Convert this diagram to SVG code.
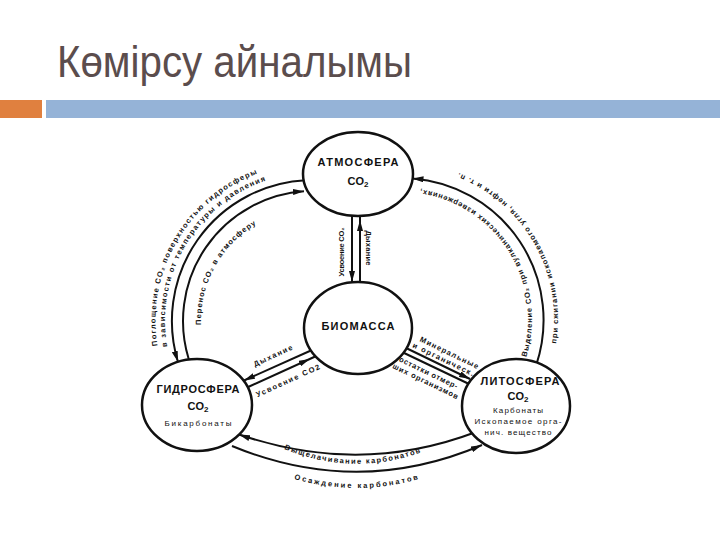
<svg xmlns="http://www.w3.org/2000/svg" width="720" height="540" viewBox="0 0 720 540">
<defs>
<style>
.ln{fill:none;stroke:#111;stroke-width:2}
.nd ellipse{fill:#fff;stroke:#111;stroke-width:2.5}
.nt{font-family:"Liberation Sans",Arial,sans-serif;font-weight:bold;font-size:11px;fill:#111;text-anchor:middle}
.ns{font-family:"Liberation Sans",Arial,sans-serif;font-size:8px;fill:#111;text-anchor:middle}
.lb{font-family:"Liberation Sans",Arial,sans-serif;font-weight:bold;font-size:7.5px;fill:#111}
.mid{text-anchor:middle}
</style>
<marker id="ah" viewBox="0 0 11 6" refX="11" refY="3" markerWidth="11" markerHeight="6" markerUnits="userSpaceOnUse" orient="auto"><path d="M0,0 L11,3 L0,6z" fill="#111"/></marker>
<marker id="ah6" viewBox="0 0 17 6" refX="17" refY="3" markerWidth="17" markerHeight="6" markerUnits="userSpaceOnUse" orient="auto"><path d="M0,0 L11,3 L0,6z" fill="#111"/></marker>
<path id="tp1" d="M157.44,345.64 A157.5 157.5 0 0 1 261.72,172.08"/>
<path id="tp2" d="M167.25,346.7 A148 148 0 0 1 267.27,180.24"/>
<path id="tp3" d="M201.07,324.91 A112 112 0 0 1 260.42,222.11"/>
<path id="tp4" d="M526.3,357.3 A131 131 0 0 0 410.1,188.3"/>
<path id="tp5" d="M556.1,343.6 A157 157 0 0 0 454.7,171.5"/>
<path id="tp6" d="M284,449 Q358,479 432,448"/>
<path id="tp7" d="M294,479 Q360,498 426,477"/>
</defs>

<g id="title">
<text x="57" y="77" font-family="'Liberation Sans',Arial,sans-serif" font-size="44" fill="#5b4d4d" textLength="355" lengthAdjust="spacingAndGlyphs">Көмірсу айналымы</text>
<rect x="0" y="100" width="42" height="18" fill="#e0803f"/>
<rect x="46" y="100" width="674" height="18" fill="#95b3d7"/>
</g>

<g id="connectors">
<path class="ln" d="M305.6,180.2 A141 141 0 0 0 178,362" marker-end="url(#ah)"/>
<path class="ln" d="M188.7,359 A130 130 0 0 1 304,191.3" marker-end="url(#ah)"/>
<path class="ln" d="M536.3,364.9 A142 142 0 0 0 412.5,178.5" marker-end="url(#ah)"/>
<path class="ln" d="M352,212 L352,282" marker-end="url(#ah)"/>
<path class="ln" d="M360,285 L360,214" marker-end="url(#ah6)"/>
<path class="ln" d="M312,350 L244,380.5" marker-end="url(#ah)"/>
<path class="ln" d="M246,388 L315.2,356.5" marker-end="url(#ah6)"/>
<path class="ln" d="M404,347 L470,379" marker-end="url(#ah)"/>
<path class="ln" d="M402,352 L468,383.5"/>
<path class="ln" d="M476,432 Q360,476 239,434.5" marker-end="url(#ah)"/>
<path class="ln" d="M232,446 Q358,498 482,445" marker-end="url(#ah)"/>

<text class="lb"><textPath href="#tp1" textLength="215">Поглощение CO₂ поверхностью гидросферы</textPath></text>
<text class="lb"><textPath href="#tp2" textLength="210">в зависимости от температуры и давления</textPath></text>
<text class="lb"><textPath href="#tp3" textLength="120">Перенос CO₂ в атмосферу</textPath></text>
<text class="lb"><textPath href="#tp4" textLength="225">Выделение CO₂ при вулканических извержениях,</textPath></text>
<text class="lb"><textPath href="#tp5" textLength="212">при сжигании ископаемого угля, нефти и т. п.</textPath></text>
<text class="lb"><textPath href="#tp6" textLength="140">Выщелачивание  карбонатов</textPath></text>
<text class="lb"><textPath href="#tp7" textLength="126">Осаждение  карбонатов</textPath></text>

<text class="lb mid" transform="translate(344,252) rotate(-90)" textLength="49">Усвоение CO₂</text>
<text class="lb mid" transform="translate(366,248) rotate(90)" textLength="35">Дыхание</text>
<text class="lb mid" transform="translate(274,358) rotate(-24.5)" textLength="42">Дыхание</text>
<text class="lb mid" transform="translate(289,383) rotate(-24.5)" font-size="8.5" textLength="69">Усвоение CO2</text>
<g transform="translate(406,348) rotate(25.8)">
<text class="lb" x="9" y="-12" textLength="64">Минеральные</text>
<text class="lb" x="5" y="-3.5" textLength="67">и органическ.</text>
<text class="lb" x="-1" y="15" textLength="64">остатки отмер-</text>
<text class="lb" x="-4" y="24" textLength="72">ших организмов</text>
</g>
</g>

<g id="atmosphere" class="nd">
<ellipse cx="358" cy="174" rx="55" ry="42"/>
<text class="nt" x="358" y="166" textLength="81">АТМОСФЕРА</text>
<text class="nt" x="358" y="185">CO<tspan font-size="8" dy="2">2</tspan></text>
</g>
<g id="biomass" class="nd">
<ellipse cx="358" cy="328" rx="54" ry="46"/>
<text class="nt" x="358" y="330" textLength="73">БИОМАССА</text>
</g>
<g id="hydrosphere" class="nd">
<ellipse cx="197" cy="405" rx="55" ry="46"/>
<text class="nt" x="198" y="393" textLength="83">ГИДРОСФЕРА</text>
<text class="nt" x="198" y="410">CO<tspan font-size="8" dy="2">2</tspan></text>
<text class="ns" x="198" y="426" textLength="67">Бикарбонаты</text>
</g>
<g id="lithosphere" class="nd">
<ellipse cx="516" cy="406" rx="54" ry="47"/>
<text class="nt" x="520" y="385" textLength="79">ЛИТОСФЕРА</text>
<text class="nt" x="518" y="400">CO<tspan font-size="8" dy="2">2</tspan></text>
<text class="ns" x="518" y="413" font-size="7.5" textLength="50">Карбонаты</text>
<text class="ns" x="518" y="424" font-size="7.5" textLength="87">Ископаемое орга-</text>
<text class="ns" x="518" y="435" font-size="7.5" textLength="67">нич. вещество</text>
</g>
</svg>
